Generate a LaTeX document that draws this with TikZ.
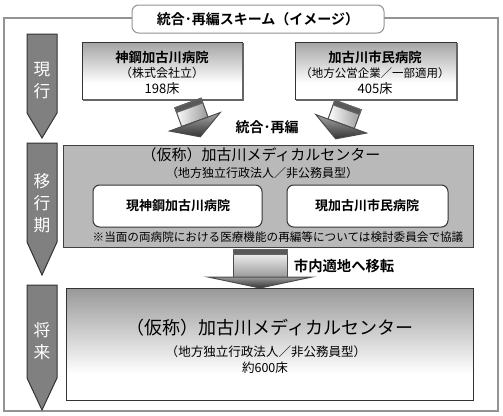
\documentclass[tikz,border=0pt]{standalone}
\usepackage{fontspec}
\setmainfont{Noto Sans CJK JP}[BoldFont={Noto Sans CJK JP Bold}]

\tikzset{every picture/.style={line width=0.75pt}}
\tikzset{
  stagearrow/.style={draw=black!80, fill=gray},
  stagelabel/.style={text=white, align=center, font=\fontsize{12.5}{16.5}\selectfont},
  fadefill/.style={top color=gray!72, bottom color=white},
  innerbox/.style={draw=black!80, fill=white, rounded corners=5pt},
  bandfill/.style={draw=black!60, fill=black!65},
  boldtext/.style={font=\bfseries\fontsize{#1}{#1}\selectfont},
  plaintext/.style={font=\fontsize{#1}{#1}\selectfont}
}

\begin{document}
\begin{tikzpicture}[x=0.75pt,y=0.75pt,yscale=-1,xscale=1]
\useasboundingbox (0,0) rectangle (503,415);

%Outer frame
\draw [draw=gray!85, line width=1.5pt] (4,18) rectangle (498,411);
%Title box
\draw [draw=gray!85, fill=white, rounded corners=5pt] (132,5) rectangle (384,33);
\node (title) at (258,19) [boldtext=10.5] {統合･再編スキーム（イメージ）};

%Stage arrows
\draw [stagearrow] (27,34) -- (57,34) -- (57,113) -- (42,138) -- (27,113) -- cycle;
\node (genko) at (42,81) [stagelabel] {現\\行};
\draw [stagearrow] (27,143) -- (57,143) -- (57,242) -- (42,275) -- (27,242) -- cycle;
\node (ikoki) at (42,203) [stagelabel] {移\\行\\期};
\draw [stagearrow] (27,285) -- (57,285) -- (57,378) -- (42,410) -- (27,378) -- cycle;
\node (shorai) at (42,341) [stagelabel] {将\\来};

%Current hospitals
\fill [fadefill] (82,42) rectangle (242,83);
\draw [draw=black!80] (82,42) rectangle (242,99);
\draw [black!60, line width=1pt] (243,43) -- (243,100) -- (83,100);
\node (kobename) at (162,57) [boldtext=10] {神鋼加古川病院};
\node (kobesub) at (162,73) [plaintext=9] {（株式会社立）};
\node (kobebeds) at (162,89) [plaintext=9.8] {198床};
\fill [fadefill] (295,42) rectangle (456,83);
\draw [draw=black!80] (295,42) rectangle (456,99);
\draw [black!60, line width=1pt] (457,43) -- (457,100) -- (296,100);
\node (shiminname) at (375,57) [boldtext=10] {加古川市民病院};
\node (shiminsub) at (375,73) [plaintext=8.6] {（地方公営企業／一部適用）};
\node (shiminbeds) at (375,89) [plaintext=9.8] {405床};

%Merge arrows
\begin{scope}[shift={(188,103)}, rotate=-20]
\draw [draw=black!70, left color=white, right color=gray!80] (-14,0) rectangle (14,20);
\draw [bandfill] (-14,0) rectangle (14,5);
\draw [draw=black!70, top color=gray!70, bottom color=black!80] (-27,20) -- (27,20) -- (0,36) -- cycle;
\end{scope}
\begin{scope}[shift={(348,105)}, rotate=20]
\draw [draw=black!70, left color=white, right color=gray!80] (-14,0) rectangle (14,20);
\draw [bandfill] (-14,0) rectangle (14,5);
\draw [draw=black!70, top color=gray!70, bottom color=black!80] (-27,20) -- (27,20) -- (0,36) -- cycle;
\end{scope}
\node (merge) at (267,127) [boldtext=10.5] {統合･再編};

%Transition period
\draw [draw=black!75, fill=gray!55] (63,145) rectangle (473,247);
\node (midname) at (261,155) [plaintext=11.25] {（仮称）加古川メディカルセンター};
\node (midsub) at (262,173) [plaintext=9] {（地方独立行政法人／非公務員型）};
\draw [innerbox] (93,185) rectangle (262,227);
\node (midkobe) at (178,206) [boldtext=9.75] {現神鋼加古川病院};
\draw [innerbox] (287,185) rectangle (448,227);
\node (midshimin) at (367,206) [boldtext=9.75] {現加古川市民病院};
\node (note) at (278,237) [plaintext=8.7] {※当面の両病院における医療機能の再編等については検討委員会で協議};

%Relocation arrow
\draw [draw=black!70, top color=white, bottom color=gray!80] (233,249) rectangle (287,277);
\draw [bandfill] (233,249) rectangle (287,254);
\draw [draw=black!70, top color=gray!80, bottom color=black!80] (208,277) -- (312,277) -- (260,288) -- cycle;
\node (move) at (289,266) [anchor=west, boldtext=10.75] {市内適地へ移転};

%Future
\fill [top color=gray!80, bottom color=white] (66,288) rectangle (473,374);
\draw [draw=black!80] (66,288) rectangle (473,400);
\node (futname) at (270,328) [plaintext=13.5] {（仮称）加古川メディカルセンター};
\node (futsub) at (266,352) [plaintext=9.4] {（地方独立行政法人／非公務員型）};
\node (futbeds) at (265,368) [plaintext=9.4] {約600床};

\end{tikzpicture}
\end{document}
